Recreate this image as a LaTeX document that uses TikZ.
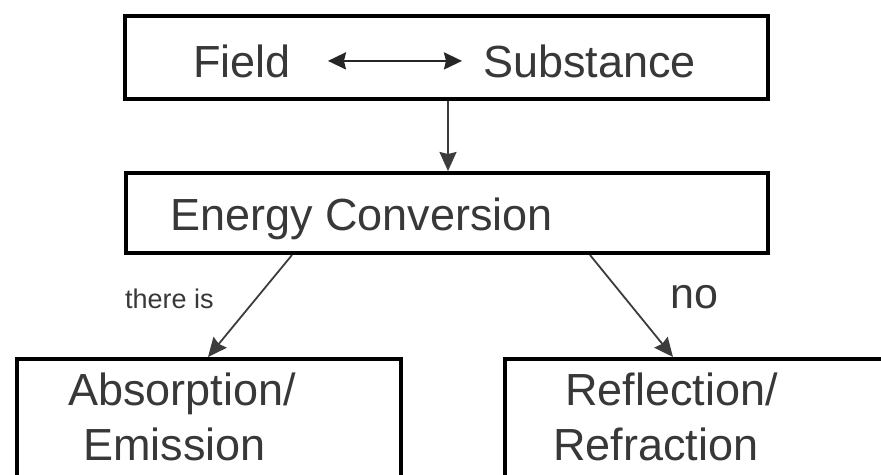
\documentclass[tikz,border=0pt]{standalone}
\usepackage{fontspec}
\setmainfont{Liberation Sans}
\usetikzlibrary{arrows.meta}
\definecolor{ink}{HTML}{383838}
\definecolor{linegray}{HTML}{3C3C3C}
\tikzset{
  box/.style={draw=black, line width=4pt, rectangle, inner sep=0pt, anchor=north west},
  label/.style={text=ink, inner sep=0pt, anchor=base west, font=\fontsize{45}{54}\selectfont},
  small/.style={text=ink, inner sep=0pt, anchor=base west, font=\fontsize{27}{32}\selectfont},
  flow/.style={draw=linegray, line width=1.8pt, -{Stealth[length=19pt,width=17pt,inset=2pt]}},
  both/.style={draw=black!85, line width=2.4pt, {Stealth[length=18pt,width=17pt,inset=2pt]}-{Stealth[length=18pt,width=17pt,inset=2pt]}},
}
\begin{document}
\begin{tikzpicture}[x=1pt,y=-1pt]
\useasboundingbox (0,0) rectangle (881,474);
\fill[white] (0,0) rectangle (881,474);
\clip (0,0) rectangle (881,474);

% boxes
\node[box, minimum width=643pt, minimum height=83pt] (top) at (123,14) {};
\node[box, minimum width=642pt, minimum height=80pt] (mid) at (124,171) {};
\node[box, minimum width=384pt, minimum height=160pt] (left) at (15,357) {};
\node[box, minimum width=400pt, minimum height=160pt] (right) at (503,357) {};

% texts
\node[label] (field) at (193,77) {Field};
\node[label] (subst) at (483,77) {Substance};
\node[label] (ec) at (170,230) {Energy Conversion};
\node[label] (abs) at (68,405) {Absorption/};
\node[label] (emi) at (83,460) {Emission};
\node[label] (refl) at (565,405) {Reflection/};
\node[label] (refr) at (553,460) {Refraction};
\node[small] (yes) at (125,308) {there is};
\node[label, font=\fontsize{43}{50}\selectfont] (no) at (670,308) {no};

% connector columns
\coordinate (vx) at (448,0);
\coordinate (lx1) at (292,0);
\coordinate (lx2) at (208,0);
\coordinate (rx1) at (590,0);
\coordinate (rx2) at (673,0);

% connectors
\draw[both] ([xshift=37pt]field.east) -- ([xshift=-21pt]subst.west);
\draw[flow] (top.south -| vx) -- (mid.north -| vx);
\draw[flow] (mid.south -| lx1) -- (left.north -| lx2);
\draw[flow] (mid.south -| rx1) -- (right.north -| rx2);
\end{tikzpicture}
\end{document}
